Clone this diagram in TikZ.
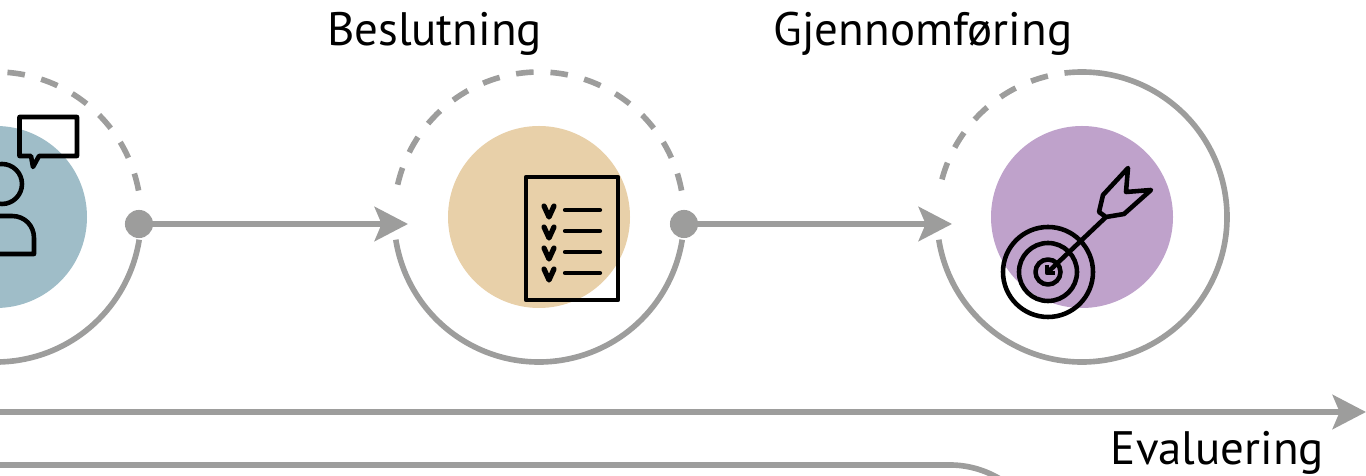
\documentclass[tikz,border=0pt]{standalone}
\usepackage{fontspec}
\setmainfont{PT Sans}
\usetikzlibrary{arrows.meta}
\definecolor{ringgray}{HTML}{9D9D9C}
\definecolor{bluefill}{HTML}{9FBDC8}
\definecolor{tanfill}{HTML}{E8D0A9}
\definecolor{purplefill}{HTML}{BFA2CB}
\tikzset{
  ring/.style={ringgray, line width=3.2pt},
  ringdash/.style={ring, dash pattern=on 10pt off 9.6pt},
  flow/.style={ring, -{Stealth[length=19pt, width=19.5pt, inset=4pt]}},
  dot/.style={circle, fill=ringgray, inner sep=0pt, minimum size=16pt},
  icon/.style={black, line width=2.6pt, line join=round},
  tick/.style={icon, line width=3pt, line cap=round},
  rule/.style={icon, line width=2.4pt, line cap=round},
  title/.style={anchor=base, font=\fontsize{26.7}{32}\selectfont}
}
\begin{document}
\begin{tikzpicture}[x=0.02cm, y=0.02cm]
  \useasboundingbox (0,0) rectangle (1366,476);
  \clip (0,0) rectangle (1366,476);

  % centres of the three rings
  \coordinate (samrad) at (-4,259);
  \coordinate (beslut) at (539,259);
  \coordinate (gjenn) at (1082,259);

  \fill[bluefill] (samrad) circle (91);
  \fill[tanfill] (beslut) circle (91);
  \fill[purplefill] (gjenn) circle (91);

  % lower solid arcs and upper dashed arcs
  \foreach \c in {samrad,beslut} {
    \draw[ring] ([shift={(189:145)}]\c) arc[start angle=189, end angle=351, radius=145];
    \draw[ringdash] ([shift={(10.5:145)}]\c) arc[start angle=10.5, end angle=169.5, radius=145];
  }
  \draw[ring] ([shift={(189:145)}]gjenn) arc[start angle=189, end angle=450, radius=145];
  \draw[ringdash] ([shift={(90:145)}]gjenn) arc[start angle=90, end angle=169.5, radius=145];

  \node[dot] (dotA) at (139,252) {};
  \node[dot] (dotB) at (684,252) {};
  \coordinate (inB) at (408,252);
  \coordinate (inC) at (952,252);
  \draw[flow] (dotA) -- (inB);
  \draw[flow] (dotB) -- (inC);

  \coordinate (evalStart) at (-5,64);
  \coordinate (evalEnd) at (1366,64);
  \draw[flow] (evalStart) -- (evalEnd);
  \coordinate (loopStart) at (-5,11);
  \coordinate (loopEnd) at (1000,-3);
  \draw[ring] (loopStart) -- (950,11) .. controls (968,11) and (985,6) .. (loopEnd);

  \node[title] (tBeslut) at (434.5,430) {Beslutning};
  \node[title] (tGjenn) at (923,430) {Gjennomføring};
  \node[title] (tEval) at (1217.5,11) {Evaluering};

  % person with speech bubble
  \draw[icon] (2,292) circle (20);
  \draw[icon] (-10,260) -- (12,260) .. controls (25,260) and (34,250) .. (34,238) -- (34,222) -- (-10,222);
  \draw[icon] (19.5,359) -- (77,359) -- (77,320) -- (39,320) -- (33,309) -- (31,320) -- (19.5,320) -- cycle;

  % checklist
  \draw[icon] (526,299) rectangle (618,176);
  \foreach \y in {0,21,42,63} {
    \draw[tick] (544,270-\y) -- (549,259-\y) -- (554,270-\y);
    \draw[rule] (565,266-\y) -- (600,266-\y);
  }

  % target with arrow
  \draw[icon] (1048,204) circle (45);
  \draw[icon] (1048,204) circle (29);
  \draw[icon] (1048,204) circle (12.5);
  \draw[icon] (1047,203) -- (1106,259);
  \draw[icon] (1047,211) -- (1047,203) -- (1055,203);
  \draw[icon] (1106,259) -- (1099,264) -- (1103,281) -- (1128,308) -- (1126,284) -- (1151,286) -- (1124,262) -- cycle;
\end{tikzpicture}
\end{document}
